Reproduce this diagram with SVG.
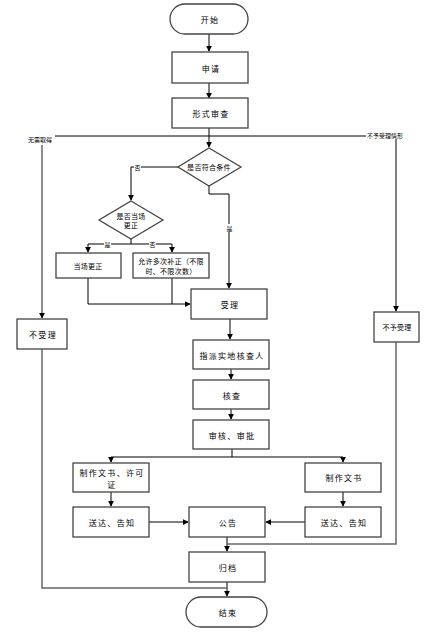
<svg xmlns="http://www.w3.org/2000/svg" width="432" height="644" viewBox="0 0 432 644">
<defs>
<marker id="ar" viewBox="0 0 8 8" refX="7" refY="4" markerWidth="6" markerHeight="6" orient="auto" markerUnits="userSpaceOnUse">
<path d="M0,0 L8,4 L0,8 z" fill="#000"/>
</marker>
<style>
.b{fill:#fff;stroke:#444;stroke-width:1.3}
.t{font-family:"Noto Sans CJK SC","Noto Sans",sans-serif;font-size:8px;letter-spacing:1.3px;fill:#000;text-anchor:middle;dominant-baseline:central}
.s{font-size:7px;letter-spacing:0.3px}
.l{font-family:"Noto Sans CJK SC","Noto Sans",sans-serif;font-size:6px;fill:#000;dominant-baseline:central}
.c{fill:none;stroke:#000;stroke-width:1}
.g{fill:none;stroke:#666;stroke-width:1.5}
</style>
</defs>
<rect width="432" height="644" fill="#fff"/>
<g id="connectors">
<path class="c" d="M209,34 V51" marker-end="url(#ar)"/>
<path class="c" d="M209,83 V98" marker-end="url(#ar)"/>
<path class="c" d="M209,128 V147" marker-end="url(#ar)"/>
<path class="c" d="M55,136 H366"/>
<path class="g" d="M42,145 V318" marker-end="url(#ar)"/>
<path class="c" d="M396,139 V311" marker-end="url(#ar)"/>
<path class="c" d="M178,167 H131 V200" marker-end="url(#ar)"/>
<path class="c" d="M209,186 V194 H229 V288" marker-end="url(#ar)"/>
<path class="c" d="M131,239 V244 M88,244 H172"/>
<path class="c" d="M88,244 V252" marker-end="url(#ar)"/>
<path class="c" d="M172,244 V252" marker-end="url(#ar)"/>
<path class="c" d="M88,278 V304 H190" marker-end="url(#ar)"/>
<path class="c" d="M172,278 V304"/>
<path class="c" d="M230,319 V339" marker-end="url(#ar)"/>
<path class="c" d="M231,369 V379" marker-end="url(#ar)"/>
<path class="c" d="M231,409 V419" marker-end="url(#ar)"/>
<path class="c" d="M232,449 V457 M111,457 H343"/>
<path class="c" d="M111,457 V462" marker-end="url(#ar)"/>
<path class="c" d="M343,457 V462" marker-end="url(#ar)"/>
<path class="c" d="M111,492 V506" marker-end="url(#ar)"/>
<path class="c" d="M343,492 V506" marker-end="url(#ar)"/>
<path class="c" d="M149,522 H188" marker-end="url(#ar)"/>
<path class="c" d="M305,522 H266" marker-end="url(#ar)"/>
<path class="c" d="M227,537 V551" marker-end="url(#ar)"/>
<path class="g" d="M396,342 V544 H227"/>
<path class="c" d="M227,582 V596" marker-end="url(#ar)"/>
<path class="g" d="M42,349 V588 H227"/>
<rect x="134" y="163" width="7" height="8" fill="#fff"/>
<text class="l" x="137.5" y="167" text-anchor="middle">否</text>
<rect x="104" y="240" width="7" height="8" fill="#fff"/>
<text class="l" x="107.5" y="244" text-anchor="middle">是</text>
<rect x="149" y="240" width="7" height="8" fill="#fff"/>
<text class="l" x="152.5" y="244" text-anchor="middle">否</text>
<rect x="226" y="224" width="7" height="8" fill="#fff"/>
<text class="l" x="229.5" y="228" text-anchor="middle">是</text>
<text class="l" x="28" y="139">无需取得</text>
<text class="l" x="367" y="135">不予受理情形</text>
</g>
<g id="start"><rect class="b" x="170" y="4" width="78" height="30" rx="15"/><text class="t" x="210" y="19">开始</text></g>
<g id="apply"><rect class="b" x="172" y="52" width="76" height="31"/><text class="t" x="211" y="68">申请</text></g>
<g id="formal"><rect class="b" x="172" y="98" width="76" height="30"/><text class="t" x="211" y="113">形式审查</text></g>
<g id="cond"><path class="b" d="M209,148 L241,167 L209,186 L178,167 z"/><text class="t s" x="209" y="167">是否符合条件</text></g>
<g id="onsite"><path class="b" d="M131,201 L163,220 L131,239 L99,220 z"/><text class="t s" x="131" y="216">是否当场</text><text class="t s" x="131" y="225">更正</text></g>
<g id="correct"><rect class="b" x="56" y="253" width="65" height="25"/><text class="t s" x="88" y="266">当场更正</text></g>
<g id="multi"><rect class="b" x="133" y="253" width="76" height="25"/><text class="t s" x="171" y="261">允许多次补正（不限</text><text class="t s" x="171" y="271">时、不限次数）</text></g>
<g id="reject"><rect class="b" x="17" y="319" width="50" height="30"/><text class="t" x="43" y="334">不受理</text></g>
<g id="accept"><rect class="b" x="191" y="289" width="76" height="30"/><text class="t" x="230" y="304">受理</text></g>
<g id="notaccept"><rect class="b" x="374" y="312" width="45" height="30"/><text class="t s" x="397" y="327">不予受理</text></g>
<g id="assign"><rect class="b" x="193" y="340" width="76" height="29"/><text class="t" x="232" y="355">指派实地核查人</text></g>
<g id="verify"><rect class="b" x="193" y="380" width="76" height="29"/><text class="t" x="232" y="395">核查</text></g>
<g id="approve"><rect class="b" x="193" y="420" width="76" height="29"/><text class="t" x="232" y="435">审核、审批</text></g>
<g id="doclic"><rect class="b" x="73" y="463" width="76" height="29"/><text class="t" x="112" y="472">制作文书、许可</text><text class="t" x="112" y="484">证</text></g>
<g id="doc"><rect class="b" x="305" y="463" width="76" height="29"/><text class="t" x="344" y="477">制作文书</text></g>
<g id="deliver1"><rect class="b" x="73" y="507" width="76" height="30"/><text class="t" x="112" y="522">送达、告知</text></g>
<g id="notice"><rect class="b" x="189" y="507" width="76" height="30"/><text class="t" x="228" y="522">公告</text></g>
<g id="deliver2"><rect class="b" x="305" y="507" width="76" height="30"/><text class="t" x="344" y="522">送达、告知</text></g>
<g id="archive"><rect class="b" x="189" y="552" width="76" height="30"/><text class="t" x="228" y="567">归档</text></g>
<g id="end"><rect class="b" x="186" y="597" width="81" height="30" rx="15"/><text class="t" x="228" y="612">结束</text></g>
</svg>
